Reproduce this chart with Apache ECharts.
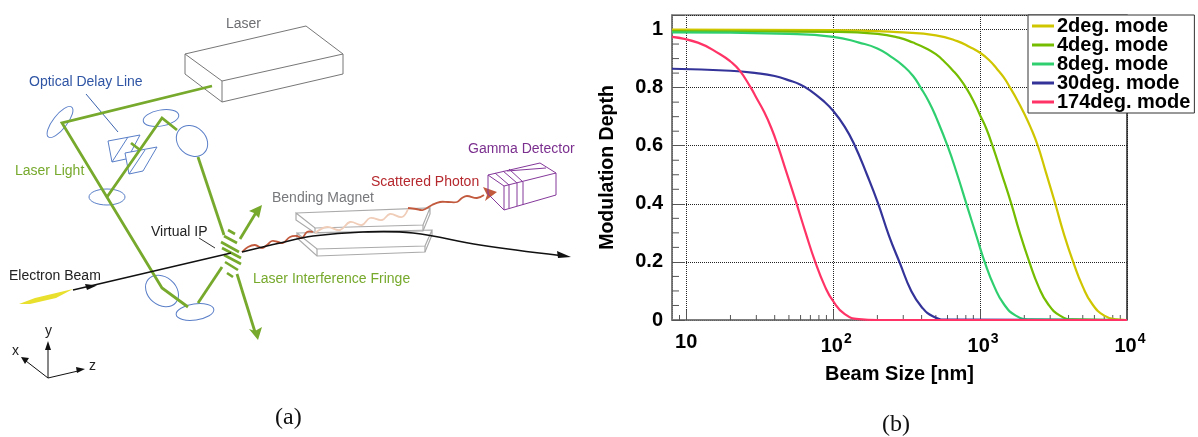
<!DOCTYPE html>
<html>
<head>
<meta charset="utf-8">
<style>html,body{margin:0;padding:0;background:#fff}#c{width:1198px;height:437px}</style>
<script src="https://cdn.jsdelivr.net/npm/echarts@6/dist/echarts.min.js"></script>
</head>
<body>
<div id="c"></div>
<script>
// ---------- data: [beam size nm, modulation depth] ----------
const mode2deg = [[8,1],[100,0.998],[300,0.99],[500,0.98],[700,0.96],[850,0.94],[1000,0.92],[1150,0.895],[1300,0.865],[1450,0.835],[1600,0.80],[1800,0.755],[2000,0.71],[2200,0.665],[2470,0.60],[2800,0.51],[3250,0.40],[3700,0.30],[4300,0.20],[5000,0.115],[5800,0.055],[7000,0.015],[8500,0.002],[10000,0]];
const mode4deg = [[8,0.995],[100,0.992],[200,0.985],[280,0.972],[350,0.955],[430,0.935],[500,0.915],[570,0.89],[650,0.86],[730,0.83],[813,0.795],[900,0.755],[1000,0.705],[1100,0.66],[1224,0.595],[1400,0.505],[1632,0.40],[1850,0.305],[2163,0.20],[2500,0.115],[2900,0.055],[3500,0.015],[4300,0.002],[10000,0]];
const mode8deg = [[8,0.99],[50,0.985],[100,0.975],[150,0.955],[200,0.935],[250,0.905],[300,0.875],[350,0.84],[394,0.80],[450,0.75],[500,0.70],[605,0.595],[700,0.50],[807,0.40],[950,0.285],[1083,0.195],[1250,0.115],[1450,0.055],[1750,0.015],[2200,0.002],[10000,0]];
const mode30deg = [[8,0.865],[20,0.858],[30,0.85],[40,0.84],[50,0.825],[60,0.81],[70,0.79],[85,0.756],[100,0.72],[120,0.665],[139,0.605],[170,0.50],[201,0.405],[240,0.29],[285,0.195],[340,0.10],[400,0.045],[480,0.012],[600,0.001],[10000,0]];
const mode174deg = [[8,0.975],[12,0.955],[17,0.915],[20,0.89],[23,0.86],[27.5,0.80],[30,0.765],[34,0.715],[38,0.66],[42,0.60],[48,0.51],[55.6,0.41],[65,0.30],[75.5,0.20],[88,0.115],[100,0.065],[120,0.02],[150,0.003],[200,0],[10000,0]];
const seriesNames = ['2deg. mode','4deg. mode','8deg. mode','30deg. mode','174deg. mode'];
const seriesColors = ['#cfc600','#74bd00','#2fcf70','#333399','#ff3366'];
const xMinorTicks = [9,20,30,40,50,60,70,80,90,200,300,400,500,600,700,800,900,2000,3000,4000,5000,6000,7000,8000,9000];
const yMinorTicks = [0.05,0.1,0.15,0.25,0.3,0.35,0.45,0.5,0.55,0.65,0.7,0.75,0.85,0.9,0.95];

// ---------- schematic (a) helpers ----------
const F = '"Liberation Sans", Arial, sans-serif';
const G = [];
const line = (pts, stroke, w, smooth) => G.push({type:'polyline', silent:true, shape:{points:pts, smooth:smooth||0}, style:{stroke, lineWidth:w, fill:null, lineJoin:'miter'}});
const poly = (pts, fill, stroke, w) => G.push({type:'polygon', silent:true, shape:{points:pts}, style:{fill:fill||null, stroke:stroke||null, lineWidth:w||1}});
const ell = (cx, cy, rx, ry, deg) => G.push({type:'ellipse', silent:true, x:cx, y:cy, rotation:-deg*Math.PI/180, shape:{cx:0, cy:0, rx, ry}, style:{fill:null, stroke:BLUE, lineWidth:1}});
const txt = (x, y, t, fill, size, fam) => G.push({type:'text', silent:true, style:{x, y, text:t, fill, font:(size||13)+'px '+(fam||F), align:'left', verticalAlign:'middle'}});

const BLUE='#5a7fc8', GREEN='#76a92c', GREY='#777777', LGREY='#aaaaaa', RED='#c25a3e', PURPLE='#84389a', BLACK='#111111';

// laser box
line([[185,54],[222,81],[343,54],[306,26],[185,54],[185,74],[222,102],[343,74],[343,54]], GREY, 1);
line([[222,81],[222,102]], GREY, 1);

// optical elements
ell(60,122,19,7,-52); ell(161,118,18,8,-10); ell(192,141,17,14,43);
ell(107,197,18,8,0); ell(162,291,18,14,40); ell(195,312,19,8,-8);
line([[108,141],[140,135],[131,152]], BLUE, 1);
line([[108,141],[112,162],[128,137]], BLUE, 1);
line([[112,162],[126,159]], BLUE, 1);
line([[125,153],[157,147],[143,171],[129,174],[125,153]], BLUE, 1);
line([[129,174],[145,150]], BLUE, 1);
line([[86,94],[118,132]], '#3a62ad', 1);

// laser beam paths
line([[212,86],[62,123],[162,288],[188,307]], GREEN, 2.8);
line([[198,303],[222,267]], GREEN, 2.8);
line([[107,197],[162,118],[177,130]], GREEN, 2.8);
line([[131,143],[140,150]], GREEN, 2.8);
line([[198,157],[224,235]], GREEN, 2.8);
line([[240,239],[257,211]], GREEN, 2.8);
poly([[249,211],[262,205],[259,218],[254,213]], GREEN);
line([[237,274],[255,332]], GREEN, 2.8);
poly([[249,329],[258,340],[262,327],[255,331]], GREEN);
[[[228,230],[235,234]],[[224,236],[237,243]],[[221,242],[239,252]],[[222,248],[241,258]],[[224,255],[241,264]],[[225,262],[238,270]],[[227,273],[233,277]]]
  .forEach(b => line(b, GREEN, 2.6));

// bending magnet
line([[296,213],[430,208],[423,225],[315,228],[296,213],[296,220],[315,233],[423,231],[430,214],[430,208]], LGREY, 1.2);
line([[315,228],[315,233]], LGREY, 1.2); line([[423,225],[423,231]], LGREY, 1.2);
line([[297,233],[432,230],[425,246],[317,249],[297,233],[297,238],[317,256],[425,252],[432,235],[432,230]], LGREY, 1.2);
line([[317,249],[317,256]], LGREY, 1.2); line([[425,246],[425,252]], LGREY, 1.2);

// scattered photon wave
line([[242,252],[248,247],[255,245],[262,248],[267,245],[272,241],[278,242],[283,243],[290,237],[297,236],[302,238],[307,232],[313,232]], RED, 1.8, 0.4);
line([[315,233],[327,227],[340,230],[350,222],[362,225],[370,218],[382,220],[390,214],[402,217],[408,209]], '#f0cdb8', 1.8, 0.4);
line([[408,208],[416,209],[423,210],[432,205],[440,202],[448,202],[457,202],[462,198],[467,196],[477,198],[484,195]], RED, 1.8, 0.4);
poly([[483,187],[497,192],[485,201],[487,195]], RED);

// electron beam
poly([[19,304],[35,298],[73,289],[56,298],[30,304]], '#e8e02c');
line([[73,290],[231,253]], BLACK, 1.5);
poly([[85,284],[97,285.5],[87,290]], BLACK);
line([[242,252],[280,243],[313,236],[363,232],[413,233],[480,245],[560,255.5]], BLACK, 1.6, 0.4);
poly([[557,251],[571,257],[558,258]], BLACK);

// detector
line([[488,175],[504,186],[556,173],[540,163],[488,175],[488,194],[504,210],[556,195],[556,173]], PURPLE, 1);
line([[504,186],[504,210]], PURPLE, 1);
[[509,185,495,173],[517,183,503,171],[523,182,509,169]].forEach(t => {
  line([[t[2],t[3]],[t[0],t[1]],[t[0],t[1]+23]], PURPLE, 1);
});
line([[507,171],[546,168]], PURPLE, 1);

// coordinates
line([[48,378],[48,348]], BLACK, 1); poly([[45,350],[48,341],[51,350]], BLACK);
line([[48,378],[26,361]], BLACK, 1); poly([[29,358],[21,357],[25,364]], BLACK);
line([[48,378],[78,371]], BLACK, 1); poly([[76,367],[85,369],[77,373]], BLACK);
line([[199,238],[215,248]], '#333', 1);

// labels
txt(226,24,'Laser','#6d6e71',14);
txt(29,82,'Optical Delay Line','#2f55a4',14);
txt(15,171,'Laser Light','#76a92c',14);
txt(272,198,'Bending Magnet','#77787b',14);
txt(371,182,'Scattered Photon','#b5282d',14);
txt(468,149,'Gamma Detector','#7b2f8e',14);
txt(253,279,'Laser Interference Fringe','#76a92c',14);
txt(151,232,'Virtual IP','#222',14);
txt(9,276,'Electron Beam','#222',14);
txt(12,351,'x','#222',14); txt(45,331,'y','#222',14); txt(89,366,'z','#222',14);
txt(275,418,'(a)','#111',24,'"Liberation Serif", serif');
txt(882,425,'(b)','#111',24,'"Liberation Serif", serif');
// right edge of the plot frame (below the legend)
line([[1127,113],[1127,320]], '#222', 1);

// ---------- chart (b) ----------
const curves = [mode2deg, mode4deg, mode8deg, mode30deg, mode174deg];
const tickMark = (horizontal, len) => function (params, api) {
  const p = api.coord(horizontal ? [api.value(0), 0] : [8, api.value(0)]);
  const q = horizontal ? [p[0], p[1]-len] : [p[0]+len, p[1]];
  return {type:'line', silent:true, shape:{x1:p[0], y1:p[1], x2:q[0], y2:q[1]}, style:{stroke:'#555', lineWidth:1}};
};
const chart = echarts.init(document.getElementById('c'), null, {renderer:'canvas'});
chart.setOption({
  animation:false,
  backgroundColor:'#fff',
  textStyle:{fontFamily:F},
  grid:{left:672, right:71, top:15, bottom:117, show:true, borderColor:'#777', borderWidth:1.5, backgroundColor:'transparent'},
  legend:{
    left:1028, top:15, orient:'vertical', align:'left', data:seriesNames, icon:'rect',
    backgroundColor:'#fff', borderColor:'#333', borderWidth:1, borderRadius:0,
    padding:[1,4,1,4], itemGap:-1, itemWidth:22, itemHeight:3,
    textStyle:{fontFamily:F, fontWeight:'bold', fontSize:20, color:'#000', lineHeight:19, padding:[0,0,0,-2]},
    selectedMode:false, z:20
  },
  xAxis:{
    type:'log', logBase:10, min:8, max:10000,
    name:'Beam Size [nm]', nameLocation:'middle', nameGap:44,
    nameTextStyle:{fontFamily:F, fontWeight:'bold', fontSize:20, color:'#000'},
    axisLine:{show:true, lineStyle:{color:'#777', width:1.5}},
    axisTick:{show:true, inside:true, length:10, lineStyle:{color:'#555'}},
    minorTick:{show:false},
    splitLine:{show:true, lineStyle:{type:'dotted', color:'#222', width:1}},
    minorSplitLine:{show:false},
    axisLabel:{
      margin:12, color:'#000', fontFamily:F, fontWeight:'bold', fontSize:20,
      showMinLabel:false,
      formatter:v => {
        const e = Math.round(Math.log10(v));
        if (Math.abs(Math.pow(10,e)-v) > 1e-6) return '';
        return e === 1 ? '10' : '{b|10}{s|'+e+'}';
      },
      rich:{b:{fontFamily:F, fontWeight:'bold', fontSize:20, color:'#000', verticalAlign:'bottom', lineHeight:24, padding:[0,0,0,6]}, s:{fontFamily:F, fontWeight:'bold', fontSize:14, color:'#000', verticalAlign:'top', lineHeight:24, padding:[0,0,8,1]}}
    }
  },
  yAxis:{
    type:'value', min:0, max:1.05, interval:0.2,
    name:'Modulation Depth', nameLocation:'middle', nameGap:54,
    nameTextStyle:{fontFamily:F, fontWeight:'bold', fontSize:19.5, color:'#000'},
    axisLine:{show:true, lineStyle:{color:'#777', width:1.5}},
    axisTick:{show:true, inside:true, length:13, lineStyle:{color:'#555'}},
    splitLine:{show:true, lineStyle:{type:'dotted', color:'#222', width:1}},
    axisLabel:{
      margin:9, color:'#000', fontFamily:F, fontWeight:'bold', fontSize:20,
      formatter:v => v > 1.01 ? '' : (v === 0 ? '0' : v === 1 ? '1' : v.toFixed(1))
    }
  },
  graphic:{elements:G},
  series:[
    ...curves.map((d,i) => ({
      type:'line', name:seriesNames[i], data:d, showSymbol:false, symbol:'none',
      smooth:0.5, z:3+i, clip:true,
      lineStyle:{color:seriesColors[i], width:2.2}, itemStyle:{color:seriesColors[i]}
    })),
    {type:'custom', name:'xMinor', data:xMinorTicks.map(v=>[v]), renderItem:tickMark(true,5), encode:{x:0}, z:2, silent:true, clip:true},
    {type:'custom', name:'yMinor', data:yMinorTicks.map(v=>[v]), renderItem:tickMark(false,7), encode:{y:0}, z:2, silent:true, clip:true}
  ]
});
</script>
</body>
</html>
